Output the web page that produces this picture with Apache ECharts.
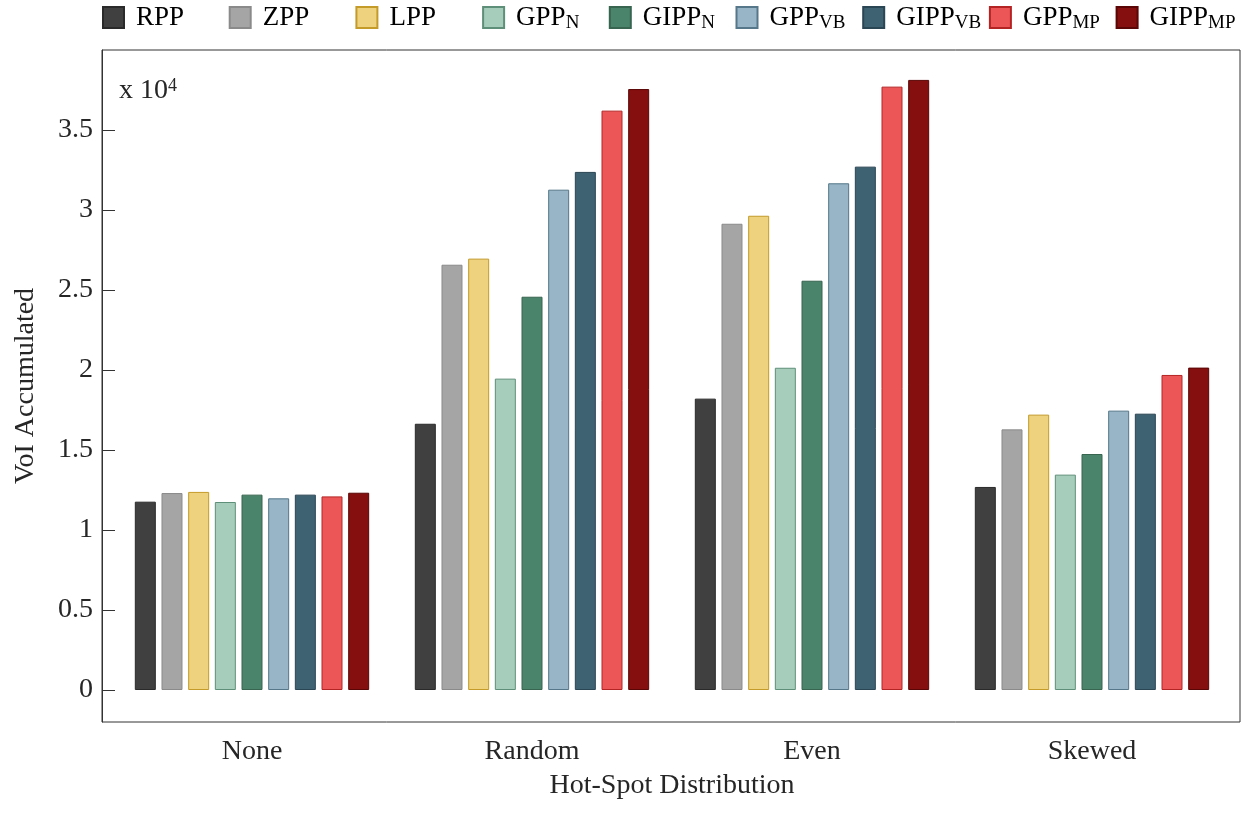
<!DOCTYPE html>
<html>
<head>
<meta charset="utf-8">
<script src="https://cdn.jsdelivr.net/npm/echarts@6/dist/echarts.min.js"></script>
<style>
html,body{margin:0;padding:0;background:#fff;}
#chart{width:1242px;height:817px;}
</style>
</head>
<body>
<div id="chart"></div>
<script>
// ---- data ----
const categories = ['None', 'Random', 'Even', 'Skewed'];
const seriesNames = ['RPP', 'ZPP', 'LPP', 'GPP_N', 'GIPP_N', 'GPP_VB', 'GIPP_VB', 'GPP_MP', 'GIPP_MP'];
const RPP     = [11770, 16640, 18210, 12690];
const ZPP     = [12310, 26580, 29140, 16290];
const LPP     = [12380, 26960, 29640, 17210];
const GPP_N   = [11750, 19460, 20140, 13460];
const GIPP_N  = [12210, 24580, 25580, 14750];
const GPP_VB  = [11980, 31270, 31670, 17460];
const GIPP_VB = [12210, 32380, 32710, 17270];
const GPP_MP  = [12100, 36210, 37710, 19690];
const GIPP_MP = [12330, 37560, 38130, 20150];
const seriesValues = [RPP, ZPP, LPP, GPP_N, GIPP_N, GPP_VB, GIPP_VB, GPP_MP, GIPP_MP];
const yTicks = [0, 5000, 10000, 15000, 20000, 25000, 30000, 35000];
const yMin = -2000, yMax = 40000;

// ---- styles ----
const fills   = ['#404040', '#a5a5a5', '#eed27e', '#a6cdbb', '#4a846b', '#97b5c6', '#3e6272', '#ec5656', '#850e0e'];
const borders = ['#2a2a2a', '#8a8a8a', '#c49a28', '#5e8f78', '#37654f', '#557789', '#2a4553', '#b52424', '#5a0606'];
const FONT = "'Liberation Serif', 'DejaVu Serif', serif";
const TXT = '#262626';

const chart = echarts.init(document.getElementById('chart'));

const series = seriesNames.map((n, i) => ({
  name: n,
  type: 'bar',
  xAxisIndex: 1,
  yAxisIndex: 1,
  barWidth: 21,
  barGap: '27%',
  data: seriesValues[i],
  itemStyle: { color: fills[i], borderColor: borders[i], borderWidth: 1 },
  emphasis: { disabled: true }
}));

const legends = seriesNames.map((n, i) => ({
  left: 97 + i * 126.7,
  top: -1,
  itemWidth: 21,
  itemHeight: 21,
  icon: 'rect',
  data: [n],
  formatter: function (name) {
    const p = name.split('_');
    return p.length > 1 ? p[0] + '{sub|' + p[1] + '}' : name;
  },
  textStyle: {
    fontFamily: FONT,
    fontSize: 27,
    color: '#000',
    padding: [0, 0, 0, 7],
    rich: {
      sub: { fontFamily: FONT, fontSize: 19, color: '#000', padding: [11, 0, 0, 0] }
    }
  }
}));

chart.setOption({
  animation: false,
  backgroundColor: '#fff',
  textStyle: { fontFamily: FONT },
  legend: legends,
  grid: [
    { left: 102, right: 2, top: 50, bottom: 95, show: true, borderColor: '#333', borderWidth: 1, backgroundColor: 'transparent' },
    { left: 112, right: 10, top: 50, bottom: 95 }
  ],
  xAxis: [
    { type: 'value', gridIndex: 0, min: 0, max: 1, show: false },
    {
      type: 'category', gridIndex: 1, data: categories,
      axisLine: { show: false }, axisTick: { show: false },
      axisLabel: { fontFamily: FONT, fontSize: 28, color: TXT, margin: 16 },
      name: 'Hot-Spot Distribution', nameLocation: 'middle', nameGap: 50,
      nameTextStyle: { fontFamily: FONT, fontSize: 28, color: TXT }
    }
  ],
  yAxis: [
    {
      type: 'value', gridIndex: 0, min: yMin, max: yMax,
      axisLine: { show: true, lineStyle: { color: '#333', width: 1 } },
      axisTick: { show: true, inside: true, length: 13, customValues: yTicks, lineStyle: { color: '#333', width: 1 } },
      axisLabel: {
        fontFamily: FONT, fontSize: 28, color: TXT, margin: 9, customValues: yTicks,
        formatter: v => String(v / 10000)
      },
      splitLine: { show: false },
      name: 'VoI Accumulated', nameLocation: 'middle', nameGap: 62,
      nameTextStyle: { fontFamily: FONT, fontSize: 28, color: TXT }
    },
    { type: 'value', gridIndex: 1, min: yMin, max: yMax, show: false }
  ],
  graphic: [
    {
      type: 'text', left: 119, top: 77,
      style: {
        text: 'x 10{sup|4}',
        fontFamily: FONT, fontSize: 28, fill: TXT,
        rich: { sup: { fontFamily: FONT, fontSize: 18, fill: TXT, verticalAlign: 'top', lineHeight: 12 } }
      }
    }
  ],
  series: series
});
</script>
</body>
</html>
